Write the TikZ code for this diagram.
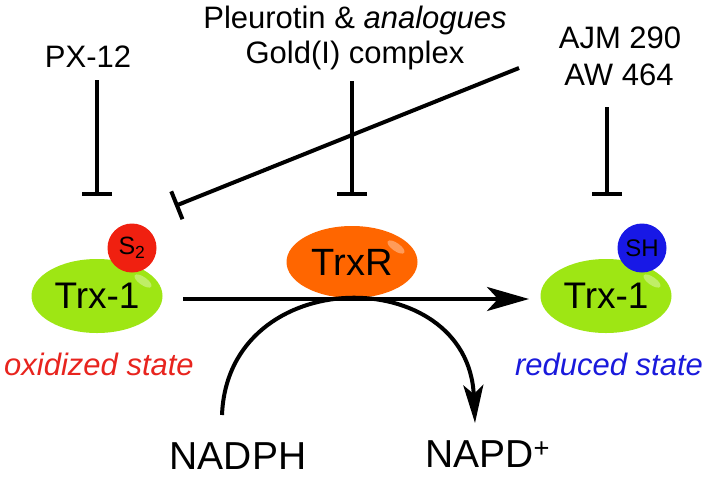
\documentclass[tikz,border=0pt]{standalone}
\usepackage{fontspec}
\setmainfont{Liberation Sans}
\usetikzlibrary{shapes.geometric,arrows.meta}
\definecolor{trxgreen}{RGB}{158,230,20}
\definecolor{trxrorange}{RGB}{255,102,0}
\definecolor{sred}{RGB}{240,32,16}
\definecolor{shblue}{RGB}{24,24,230}
\definecolor{oxred}{RGB}{232,36,30}
\definecolor{rdblue}{RGB}{26,26,220}
\begin{document}
\begin{tikzpicture}[x=1pt,y=-1pt,
  lbl/.style={font=\fontsize{31}{36}\selectfont, anchor=base, inner sep=0},
  inhib/.style={line width=4pt, -{Bar[width=30pt]}},
  protein/.style={ellipse, inner sep=0, minimum width=131pt, minimum height=74pt},
  group/.style={circle, inner sep=0, minimum size=49pt},
  gloss/.style={white, opacity=0.35},
  flow/.style={line width=4pt}]
\useasboundingbox (0,0) rectangle (708,477);
\fill[white] (0,0) rectangle (708,477);

% labels
\node[lbl] (px) at (88,67) {PX-12};
\node[lbl] (pleu) at (355,28) {Pleurotin \& \textit{analogues}};
\node[lbl] (gold) at (355,63) {Gold(I) complex};
\node[lbl] (ajm) at (620,48) {AJM 290};
\node[lbl] (aw) at (619,85) {AW 464};
\node[lbl, text=oxred] (ox) at (99,375) {\textit{oxidized state}};
\node[lbl, text=rdblue] (rd) at (609,375) {\textit{reduced state}};
\node[anchor=base, inner sep=0, font=\fontsize{39}{44}\selectfont] (nadph) at (238,469) {NADPH};
\node[anchor=base west, inner sep=0, font=\fontsize{39}{44}\selectfont] (napd) at (425,467) {NAPD\textsuperscript{+}};

% proteins
\node[protein, fill=trxgreen, font=\fontsize{37}{40}\selectfont] (trxox) at (97,296) {Trx-1};
\fill[gloss, rotate around={-35:(143,281)}] (143,281) ellipse [x radius=10pt, y radius=4pt];
\node[group, fill=sred, font=\fontsize{25}{28}\selectfont] (s2) at (132,248) {S\textsubscript{2}};

\node[protein, fill=trxgreen, font=\fontsize{37}{40}\selectfont] (trxred) at (606,296) {Trx-1};
\fill[gloss, rotate around={-35:(652,281)}] (652,281) ellipse [x radius=10pt, y radius=4pt];
\node[group, fill=shblue, font=\fontsize{24}{27}\selectfont] (sh) at (642,248) {SH};

\node[protein, fill=trxrorange, minimum height=72pt, font=\fontsize{38}{40}\selectfont] (trxr) at (352,262) {TrxR};
\fill[gloss, rotate around={-35:(396,247)}] (396,247) ellipse [x radius=10pt, y radius=4pt];

% connector end points
\coordinate (pxa) at (97,80);   \coordinate (pxb) at (97,196);
\coordinate (gda) at (352,81);  \coordinate (gdb) at (352,196);
\coordinate (aja) at (607,107); \coordinate (ajb) at (607,196);
\coordinate (dga) at (519,68);  \coordinate (dgb) at (175,206);
\coordinate (ma) at (183,299);  \coordinate (mb) at (529,299);
\coordinate (ca) at (222,415);  \coordinate (cb) at (475,423);

% inhibitions
\draw[inhib] (pxa) -- (pxb);
\draw[inhib] (gda) -- (gdb);
\draw[inhib] (aja) -- (ajb);
\draw[inhib] (dga) -- (dgb);

% reaction
\draw[flow, -{Stealth[length=38pt,width=20pt,inset=9pt]}] (ca) .. controls (228,262) and (468,262) .. (cb);
\draw[flow, -{Stealth[length=42pt,width=24pt,inset=11pt]}] (ma) -- (mb);
\end{tikzpicture}
\end{document}
